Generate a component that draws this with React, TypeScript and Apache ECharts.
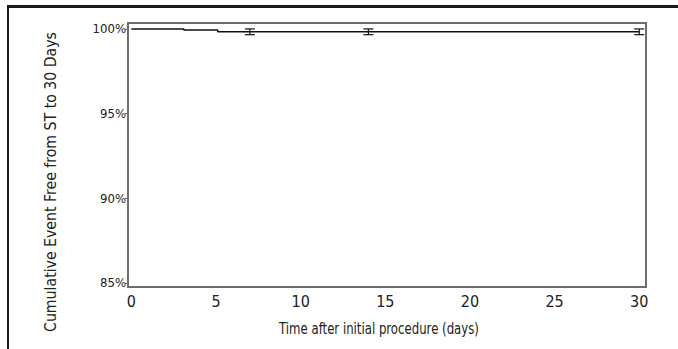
import React, { useEffect, useRef } from "react";
import * as echarts from "echarts";

const stepDays = [0, 3.1, 5.1, 30];
const eventFree = [100, 99.94, 99.84, 99.84];
const errorDays = [7, 14, 30];
const errorLow = [99.66, 99.66, 99.66];
const errorHigh = [100.0, 100.0, 100.0];
const yTicks = [85, 90, 95, 100];
const xTicks = [0, 5, 10, 15, 20, 25, 30];
const yTitle = "Cumulative Event Free from ST to 30 Days";
const xTitle = "Time after initial procedure (days)";

const FONT = "'Liberation Sans Narrow', 'DejaVu Sans Condensed', 'Roboto', sans-serif";

export default function App() {
  const ref = useRef<HTMLDivElement>(null);
  useEffect(() => {
    if (!ref.current) return;
    const chart = echarts.init(ref.current, null, { renderer: "svg" });
    const stepData = stepDays.map((d, i) => [d, eventFree[i]]);
    const errData = errorDays.map((d, i) => [d, errorLow[i], errorHigh[i]]);
    chart.setOption({
      animation: false,
      backgroundColor: "#ffffff",
      grid: {
        left: 128,
        right: 32,
        top: 23,
        bottom: 62,
        show: true,
        borderColor: "#6e6e6e",
        borderWidth: 2,
        backgroundColor: "transparent",
      },
      xAxis: {
        type: "value",
        min: -0.2,
        max: 30.4,
        splitLine: { show: false },
        axisLine: { show: true, onZero: false, lineStyle: { color: "#6e6e6e", width: 2 } },
        axisTick: { show: false },
        axisLabel: {
          customValues: xTicks,
          color: "#222",
          fontFamily: FONT,
          fontSize: 16,
          margin: 6,
        },
      },
      yAxis: {
        type: "value",
        min: 84.76,
        max: 100.35,
        splitLine: { show: false },
        axisLine: { show: true, onZero: false, lineStyle: { color: "#6e6e6e", width: 2 } },
        axisTick: { show: true, customValues: yTicks, length: 3, lineStyle: { color: "#6e6e6e", width: 1 } },
        axisLabel: {
          customValues: yTicks,
          formatter: (v: number) => `${v}%`,
          color: "#222",
          fontFamily: FONT,
          fontSize: 13,
          margin: 2,
        },
      },
      graphic: [
        { type: "line", shape: { x1: 7, y1: 6.5, x2: 678, y2: 6.5 }, style: { stroke: "#1a1a1a", lineWidth: 3 } },
        { type: "line", shape: { x1: 8, y1: 5, x2: 8, y2: 349 }, style: { stroke: "#1a1a1a", lineWidth: 2 } },
        {
          type: "text",
          x: 50,
          y: 182,
          rotation: Math.PI / 2,
          style: {
            text: yTitle,
            fill: "#222",
            font: `15.7px ${FONT}`,
            align: "center",
            verticalAlign: "middle",
          },
        },
        {
          type: "text",
          x: 379,
          y: 329,
          scaleX: 0.87,
          style: {
            text: xTitle,
            fill: "#222",
            font: `15px ${FONT}`,
            align: "center",
            verticalAlign: "middle",
          },
        },
      ],
      series: [
        {
          type: "line",
          step: "end",
          data: stepData,
          symbol: "none",
          lineStyle: { color: "#111", width: 1.5 },
        },
        {
          type: "custom",
          data: errData,
          renderItem: (params: any, api: any) => {
            const x = api.value(0);
            const lo = api.coord([x, api.value(1)]);
            const hi = api.coord([x, api.value(2)]);
            const w = 5;
            const st = { stroke: "#111", lineWidth: 1.2 };
            return {
              type: "group",
              children: [
                { type: "line", shape: { x1: lo[0], y1: lo[1], x2: hi[0], y2: hi[1] }, style: st },
                { type: "line", shape: { x1: lo[0] - w, y1: lo[1], x2: lo[0] + w, y2: lo[1] }, style: st },
                { type: "line", shape: { x1: hi[0] - w, y1: hi[1], x2: hi[0] + w, y2: hi[1] }, style: st },
              ],
            };
          },
        },
      ],
    });
    return () => chart.dispose();
  }, []);
  return (
    <div
      ref={ref}
      style={{ position: "fixed", left: 0, top: 0, width: 678, height: 349, background: "#fff" }}
    />
  );
}
